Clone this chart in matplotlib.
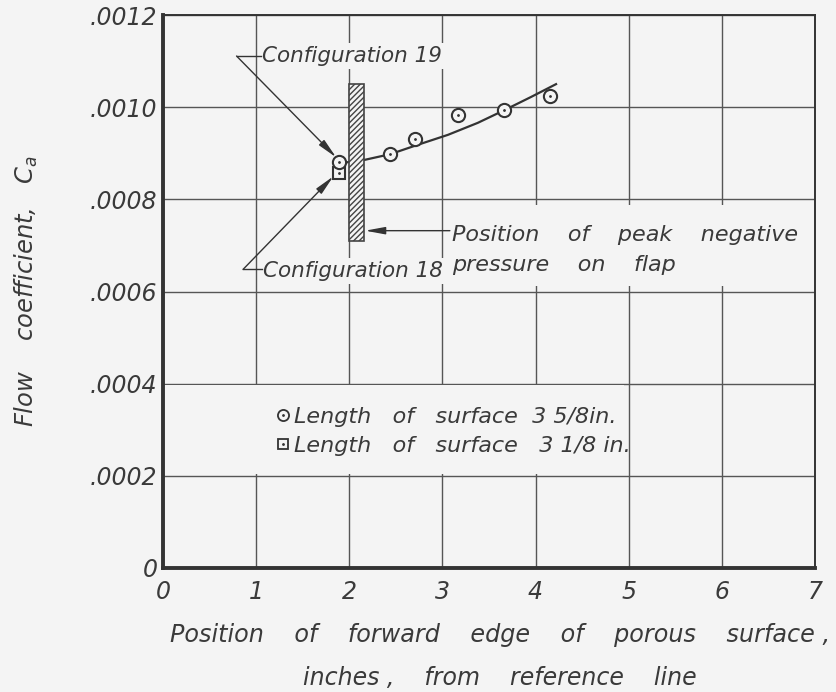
import numpy as np
import matplotlib
matplotlib.use("Agg")
import matplotlib.pyplot as plt
from matplotlib.patches import Rectangle
from matplotlib.lines import Line2D
from matplotlib.legend_handler import HandlerTuple

# measured points, 3 5/8 in. surface
circ_x = [1.89, 2.44, 2.71, 3.17, 3.66, 4.15]
circ_y = [0.000880, 0.000898, 0.000930, 0.000983, 0.000993, 0.001024]
# 3 1/8 in. surface
sq_x = [1.89]
sq_y = [0.000857]

# faired curve through the data
fair_x = [1.96, 2.15, 2.44, 2.73, 3.06, 3.38, 3.66, 3.95, 4.22]
fair_y = [0.000880, 0.000885, 0.000898, 0.000918, 0.000940, 0.000966, 0.000993, 0.001022, 0.001050]

# band marking peak negative pressure on the flap
peak_x = [2.0, 2.16]
peak_y = [0.000709, 0.00105]

xticks = [0, 1, 2, 3, 4, 5, 6, 7]
yticks = [0, 0.0002, 0.0004, 0.0006, 0.0008, 0.0010, 0.0012]
ytick_labels = ['0', '.0002', '.0004', '.0006', '.0008', '.0010', '.0012']

paper = '#f4f4f4'
ink = '#3a3a3a'
line = '#333333'
plt.rcParams['font.family'] = ['DejaVu Sans']
plt.rcParams['font.style'] = 'italic'
plt.rcParams['mathtext.fontset'] = 'dejavusans'

fig = plt.figure(figsize=(8.37, 6.92), dpi=100, facecolor=paper)
ax = fig.add_axes([0.1947, 0.1792, 0.779, 0.7991], facecolor=paper)

ax.set_xlim(0, 7)
ax.set_ylim(0, 0.0012)
ax.set_xticks(xticks)
ax.set_xticklabels([str(t) for t in xticks], fontsize=17, color=ink)
ax.set_yticks(yticks)
ax.set_yticklabels(ytick_labels, fontsize=17, color=ink)
ax.tick_params(axis='x', length=0, pad=9)
ax.tick_params(axis='y', length=0, pad=4)
ax.grid(True, color='#555555', linewidth=1.0)
ax.set_axisbelow(True)
for side in ['left', 'bottom']:
    ax.spines[side].set_linewidth(2.8)
for side in ['top', 'right']:
    ax.spines[side].set_linewidth(1.4)
for s in ax.spines.values():
    s.set_color(line)
    s.set_zorder(10)

# blank out grid behind the lettered notes
ax.add_patch(Rectangle((0, 0.000203), 4.95, 0.000194, facecolor=paper, edgecolor='none', zorder=1))
ax.add_patch(Rectangle((3.05, 0.000612), 3.92, 0.000176, facecolor=paper, edgecolor='none', zorder=1))

ax.plot(fair_x, fair_y, color=line, lw=1.6, zorder=3)

ax.add_patch(Rectangle((peak_x[0], peak_y[0]), peak_x[1] - peak_x[0], peak_y[1] - peak_y[0],
                       facecolor=paper, edgecolor='#444444', hatch='//////', lw=1.2, zorder=4))

ax.plot(sq_x, sq_y, 's', ms=8, mfc=paper, mec=line, mew=1.5, zorder=5)
ax.plot(sq_x, sq_y, '.', ms=2, color=line, zorder=6)
ax.plot(circ_x, circ_y, 'o', ms=9.5, mfc=paper, mec=line, mew=1.5, zorder=7)
ax.plot(circ_x, circ_y, '.', ms=2, color=line, zorder=8)

box = dict(facecolor=paper, edgecolor='none', pad=2)
arrow = dict(arrowstyle='-|>,head_length=1.2,head_width=0.22', color=line, lw=1.0,
             shrinkA=0, shrinkB=0)

# Configuration 19
ax.text(1.06, 0.001111, 'Configuration 19', fontsize=15.5, color=ink, va='center', ha='left',
        bbox=box, zorder=5)
ax.plot([0.79, 1.05], [0.001111, 0.001111], color=line, lw=1.0, zorder=5)
ax.annotate('', xy=(1.86, 0.000891), xytext=(0.79, 0.001111), arrowprops=arrow, zorder=5)

# Configuration 18
ax.text(1.07, 0.000645, 'Configuration 18', fontsize=15.5, color=ink, va='center', ha='left',
        bbox=box, zorder=5)
ax.plot([0.86, 1.06], [0.000648, 0.000648], color=line, lw=1.0, zorder=5)
ax.annotate('', xy=(1.83, 0.000850), xytext=(0.86, 0.000648), arrowprops=arrow, zorder=5)

# peak pressure note
ax.text(3.1, 0.000690, 'Position    of    peak    negative\npressure    on    flap', fontsize=16,
        color=ink, va='center', ha='left', linespacing=1.6, zorder=5)
ax.annotate('', xy=(2.17, 0.000732), xytext=(3.08, 0.000732), arrowprops=arrow, zorder=5)

# legend
h_circ = (Line2D([], [], ls='none', marker='o', ms=8, mfc=paper, mec=line, mew=1.3),
          Line2D([], [], ls='none', marker='.', ms=2, color=line))
h_sq = (Line2D([], [], ls='none', marker='s', ms=7, mfc=paper, mec=line, mew=1.3),
        Line2D([], [], ls='none', marker='.', ms=2, color=line))
leg = ax.legend([h_circ, h_sq],
                ['Length   of   surface  3 5/8in.', 'Length   of   surface   3 1/8 in.'],
                handler_map={tuple: HandlerTuple(ndivide=1)},
                loc='upper left', bbox_to_anchor=(1.22, 0.000350),
                bbox_transform=ax.transData, fontsize=16,
                handlelength=0.55, handletextpad=0.25, borderpad=0, borderaxespad=0,
                labelspacing=0.42, frameon=False)
for t in leg.get_texts():
    t.set_color(ink)
leg.set_zorder(5)

fig.text(0.597, 0.083, 'Position    of    forward    edge    of    porous    surface ,',
         fontsize=17.2, color=ink, ha='center', va='center')
fig.text(0.597, 0.020, 'inches ,    from    reference    line',
         fontsize=17, color=ink, ha='center', va='center')
fig.text(0.032, 0.579, r'Flow    coefficient,   $C_a$', fontsize=17.5, color=ink,
         rotation=90, ha='center', va='center')

fig.savefig('out.png', dpi=100, facecolor=paper)
